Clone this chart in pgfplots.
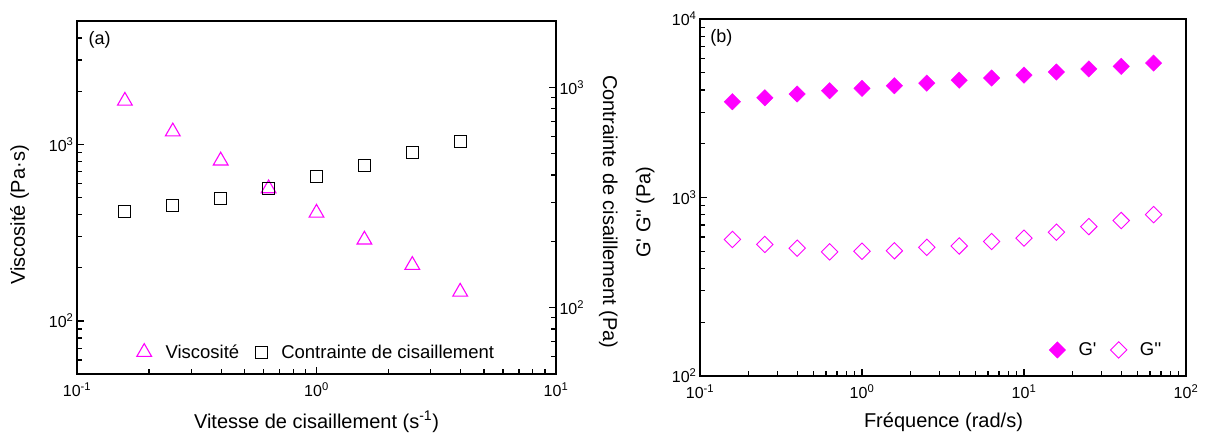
\documentclass[border=0pt]{standalone}
\usepackage{fontspec}
\setmainfont{Liberation Sans}
\usepackage{pgfplots}
\pgfplotsset{compat=1.18}
\definecolor{mag}{RGB}{255,0,255}
\begin{document}
\begin{tikzpicture}
\path[use as bounding box] (0pt,0pt) rectangle (1206pt,441pt);
% ---------- panel (a) ----------
\begin{axis}[scale only axis, xmode=log, ymode=log,
  at={(77pt,67pt)}, anchor=south west, width=479pt, height=353pt,
  xmin=0.1, xmax=10, ymin=50, ymax=5000,
  xtick={0.1,1,10}, xticklabels={10\textsuperscript{-1},10\textsuperscript{0},10\textsuperscript{1}},
  minor xtick={0.2,0.3,0.4,0.5,0.6,0.7,0.8,0.9,2,3,4,5,6,7,8,9},
  ytick={100,1000}, yticklabels={10\textsuperscript{2},10\textsuperscript{3}},
  minor ytick={60,70,80,90,200,300,400,500,600,700,800,900,2000,3000,4000},
  xtick pos=bottom, ytick pos=left,
  ylabel={Viscosité (Pa·s)},
  ylabel style={at={(axis description cs:-0.12,0.45)}, anchor=center, font=\fontsize{20}{24}\selectfont},
  xlabel={Vitesse de cisaillement (s\textsuperscript{-1})},
  xlabel style={at={(axis description cs:0.5,-0.136)}, anchor=center, font=\fontsize{20}{24}\selectfont},
  ticklabel style={font=\fontsize{16}{18}\selectfont},
  xticklabel style={yshift=-5pt},
  axis line style={line width=1.3pt},
  tick align=inside, major tick length=7pt, minor tick length=5pt,
  every tick/.style={black, line width=1.3pt},
]
\addplot[only marks, mark=triangle, mark size=8.5pt, mag, mark options={line width=1.1pt}] coordinates {
(0.1585,1763) (0.2512,1181) (0.3981,808) (0.631,562) (1,409) (1.585,288) (2.512,207) (3.981,146)};
\node[anchor=west, font=\fontsize{18}{22}\selectfont] at (axis description cs:0.017,0.946) {(a)};
\end{axis}
\begin{axis}[scale only axis, xmode=log, ymode=log,
  at={(77pt,67pt)}, anchor=south west, width=479pt, height=353pt,
  xmin=0.1, xmax=10, ymin=50, ymax=2000,
  axis x line=none, axis y line*=right,
  ytick={100,1000}, yticklabels={10\textsuperscript{2},10\textsuperscript{3}},
  minor ytick={60,70,80,90,200,300,400,500,600,700,800,900},
  ylabel={Contrainte de cisaillement (Pa)},
  ylabel style={at={(axis description cs:1.109,0.459)}, anchor=center, rotate=180, font=\fontsize{20}{24}\selectfont},
  ticklabel style={font=\fontsize{16}{18}\selectfont},
  legend style={font=\fontsize{18.5}{22}\selectfont, draw=none, fill=none,
    at={(axis description cs:0.5,0.062)}, anchor=center, legend columns=2,
    /tikz/every even column/.append style={column sep=14pt}},
  axis line style={line width=1.3pt},
  tick align=inside, major tick length=7pt, minor tick length=5pt,
  every tick/.style={black, line width=1.3pt},
]
\addlegendimage{only marks, mark=triangle, mark size=8.5pt, mag, mark options={line width=1.1pt}}
\addlegendentry{\hspace{12pt}Viscosité}
\addplot[only marks, mark=square, mark size=6pt, black, mark options={line width=1.1pt}] coordinates {
(0.1585,273) (0.2512,290) (0.3981,314) (0.631,348) (1,395) (1.585,442) (2.512,507) (3.981,569)};
\addlegendentry{\hspace{12pt}Contrainte de cisaillement}
\end{axis}
% ---------- panel (b) ----------
\begin{axis}[scale only axis, xmode=log, ymode=log,
  at={(700pt,65pt)}, anchor=south west, width=486pt, height=357pt,
  xmin=0.1, xmax=100, ymin=100, ymax=10000,
  xtick={0.1,1,10,100}, xticklabels={10\textsuperscript{-1},10\textsuperscript{0},10\textsuperscript{1},10\textsuperscript{2}},
  minor xtick={0.2,0.3,0.4,0.5,0.6,0.7,0.8,0.9,2,3,4,5,6,7,8,9,20,30,40,50,60,70,80,90},
  ytick={100,1000,10000}, yticklabels={10\textsuperscript{2},10\textsuperscript{3},10\textsuperscript{4}},
  minor ytick={200,300,400,500,600,700,800,900,2000,3000,4000,5000,6000,7000,8000,9000},
  xtick pos=bottom, ytick pos=left,
  ylabel={G\textquotesingle{} G\textquotesingle\textquotesingle{} (Pa)},
  ylabel style={at={(axis description cs:-0.113,0.459)}, anchor=center, font=\fontsize{20}{24}\selectfont},
  xlabel={Fréquence (rad/s)},
  xlabel style={at={(axis description cs:0.501,-0.129)}, anchor=center, font=\fontsize{20}{24}\selectfont},
  ticklabel style={font=\fontsize{16}{18}\selectfont},
  xticklabel style={yshift=-5pt},
  legend style={font=\fontsize{18.5}{22}\selectfont, draw=none, fill=none,
    at={(axis description cs:0.96,0.073)}, anchor=east, legend columns=2,
    /tikz/every even column/.append style={column sep=12pt}},
  axis line style={line width=1.3pt},
  tick align=inside, major tick length=7pt, minor tick length=5pt,
  every tick/.style={black, line width=1.3pt},
]
\addplot[only marks, mark=square*, mark size=5.8pt, mag, mark options={rotate=45, fill=mag}] coordinates {
(0.1585,3440) (0.2512,3620) (0.3981,3800) (0.631,3963) (1,4090) (1.585,4227) (2.512,4370)
(3.981,4540) (6.31,4670) (10,4850) (15.85,5045) (25.12,5250) (39.81,5430) (63.1,5660)};
\addlegendentry{\hspace{11pt}G\textquotesingle}
\addplot[only marks, mark=square, mark size=5.8pt, mag, mark options={rotate=45, line width=0.9pt}] coordinates {
(0.1585,582) (0.2512,546) (0.3981,520) (0.631,496) (1,500) (1.585,503) (2.512,526)
(3.981,535) (6.31,567) (10,592) (15.85,639) (25.12,687) (39.81,743) (63.1,802)};
\addlegendentry{\hspace{11pt}G\textquotesingle\textquotesingle}
\node[anchor=west, font=\fontsize{18}{22}\selectfont] at (axis description cs:0.014,0.947) {(b)};
\end{axis}
\end{tikzpicture}
\end{document}
